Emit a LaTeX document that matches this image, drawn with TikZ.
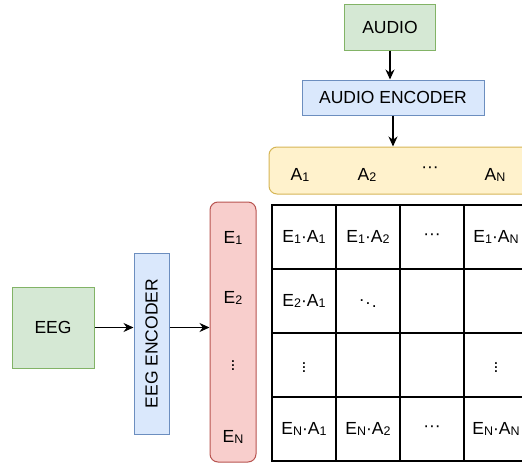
\documentclass[tikz,border=0pt]{standalone}
\usepackage{fontspec}
\setmainfont{Liberation Sans}
\usetikzlibrary{arrows.meta,positioning}

\definecolor{greenfill}{HTML}{D5E8D4}
\definecolor{greenline}{HTML}{82B366}
\definecolor{bluefill}{HTML}{DAE8FC}
\definecolor{blueline}{HTML}{6C8EBF}
\definecolor{redfill}{HTML}{F8CECC}
\definecolor{redline}{HTML}{B85450}
\definecolor{yellowfill}{HTML}{FFF2CC}
\definecolor{yellowline}{HTML}{D6B656}

\newcommand{\idx}[1]{\raisebox{-0.8pt}{\fontsize{12.5}{12.5}\selectfont #1}}

\begin{document}
\begin{tikzpicture}[
    x=1pt, y=-1pt,
    every node/.style={font=\fontsize{17.5}{20}\selectfont, inner sep=0pt},
    databox/.style={draw=greenline, fill=greenfill, line width=1pt},
    encoder/.style={draw=blueline, fill=bluefill, line width=1pt},
    ebar/.style={draw=redline, fill=redfill, line width=1pt, rounded corners=8pt},
    abar/.style={draw=yellowline, fill=yellowfill, line width=1pt, rounded corners=8pt},
    cell/.style={draw, line width=1.3pt, minimum width=64pt, minimum height=64pt},
    arrow/.style={-{Stealth[length=10pt, width=9pt]}, line width=1.2pt}
]
\useasboundingbox (0,0) rectangle (522,463);
\clip (0,0) rectangle (522,463);

% Audio branch
\node[databox, minimum width=91pt, minimum height=46pt] (audio) at (390,27) {AUDIO};
\node[encoder, minimum width=182pt, minimum height=35pt] (audioenc) at (393,97.5) {AUDIO ENCODER};

% EEG branch
\node[databox, minimum width=82pt, minimum height=81pt] (eeg) at (53,327.5) {EEG};
\node[encoder, minimum width=35pt, minimum height=181pt] (eegenc) at (151.5,343.5) {};
\node[rotate=90] (eegenclabel) at (eegenc) {EEG ENCODER};

% Audio embeddings
\node[abar, minimum width=263pt, minimum height=47pt] (abar) at (400.5,170.5) {};
\node (a1) at (300,175) {A\idx{1}};
\node (a2) at (367,175) {A\idx{2}};
\node (adots) at (430,170) {···};
\node (aN) at (495,175) {A\idx{N}};

% EEG embeddings
\node[ebar, minimum width=46pt, minimum height=260pt] (ebar) at (233,332) {};
\node (e1) at (233,238) {E\idx{1}};
\node (e2) at (233,298) {E\idx{2}};
\node (edots) at (233,363) {$\vdots$};
\node (eN) at (233,437) {E\idx{N}};

% Similarity grid
\foreach \r/\ra/\rb/\rc/\rd in {
    1/{E\idx{1}·A\idx{1}}/{E\idx{1}·A\idx{2}}/{···}/{E\idx{1}·A\idx{N}},
    2/{E\idx{2}·A\idx{1}}/{$\scriptstyle\ddots$}/{}/{},
    3/{$\vdots$}/{}/{}/{$\vdots$},
    4/{E\idx{N}·A\idx{1}}/{E\idx{N}·A\idx{2}}/{···}/{E\idx{N}·A\idx{N}}} {
    \node[cell] (c\r1) at (304,173+64*\r) {\ra};
    \node[cell] (c\r2) at (368,173+64*\r) {\rb};
    \node[cell] (c\r3) at (432,173+64*\r) {\rc};
    \node[cell] (c\r4) at (496,173+64*\r) {\rd};
}

% Connections
\draw[arrow] (audio.south) -- (audio.south |- audioenc.north);
\draw[arrow] (audioenc.south) -- (audioenc.south |- abar.north);
\draw[arrow] (eeg) -- (eeg -| eegenc.west);
\draw[arrow] (eegenc.east |- eeg) -- (eeg -| ebar.west);

\end{tikzpicture}
\end{document}
